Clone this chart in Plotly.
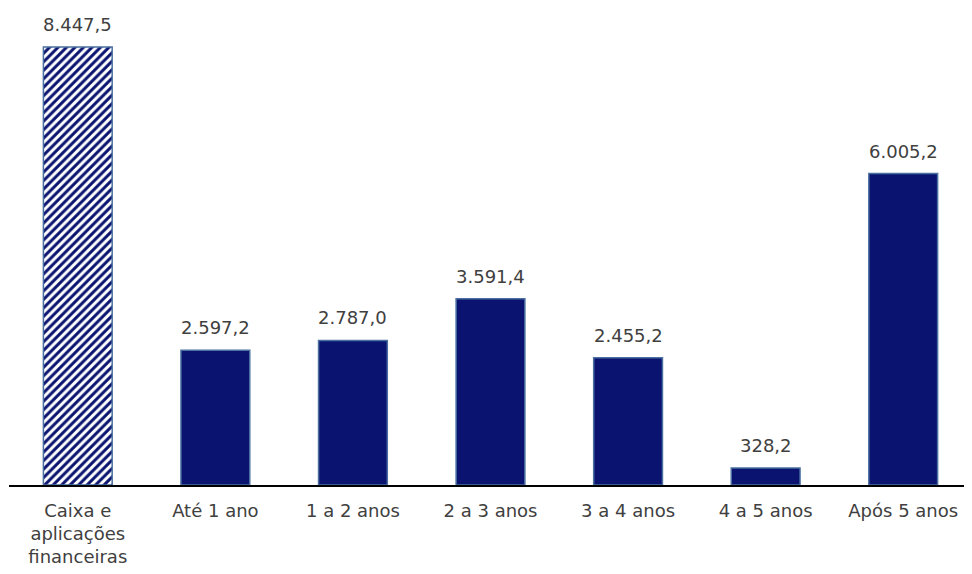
import plotly.graph_objects as go

categories = ["Caixa e<br>aplicações<br>financeiras", "Até 1 ano", "1 a 2 anos", "2 a 3 anos",
              "3 a 4 anos", "4 a 5 anos", "Após 5 anos"]
values = [8447.5, 2597.2, 2787.0, 3591.4, 2455.2, 328.2, 6005.2]

def fmt_br(v):
    s = f"{v:,.1f}"
    return s.replace(",", "X").replace(".", ",").replace("X", ".")

labels = [fmt_br(v) for v in values]

navy = "#0A1470"
shapes = ["/"] + [""] * (len(values) - 1)

fig = go.Figure(go.Bar(
    x=categories, y=values,
    marker=dict(color=navy,
                line=dict(color="#4A6FA0", width=1.5),
                pattern=dict(shape=shapes, fgcolor=navy, bgcolor="white", fgopacity=1,
                             fillmode="replace", size=6, solidity=0.5)),
))

for c, v, t in zip(categories, values, labels):
    fig.add_annotation(x=c, y=v, text=t, showarrow=False, yanchor="bottom", yshift=10,
                       font=dict(size=18, color="#404040", family="DejaVu Sans"))

fig.update_layout(
    width=964, height=566,
    margin=dict(l=1, r=0, t=12, b=89),
    paper_bgcolor="white", plot_bgcolor="white",
    bargap=0.5, showlegend=False,
    font=dict(family="DejaVu Sans", size=18, color="#404040"),
    xaxis=dict(showline=True, linecolor="black", linewidth=2, ticks="", automargin=False,
               ticklabelstandoff=8,
               tickfont=dict(size=18, color="#404040"), showgrid=False),
    yaxis=dict(visible=False, range=[0, 8967], showgrid=False, zeroline=False, automargin=False),
)

fig.write_html("out.html")
